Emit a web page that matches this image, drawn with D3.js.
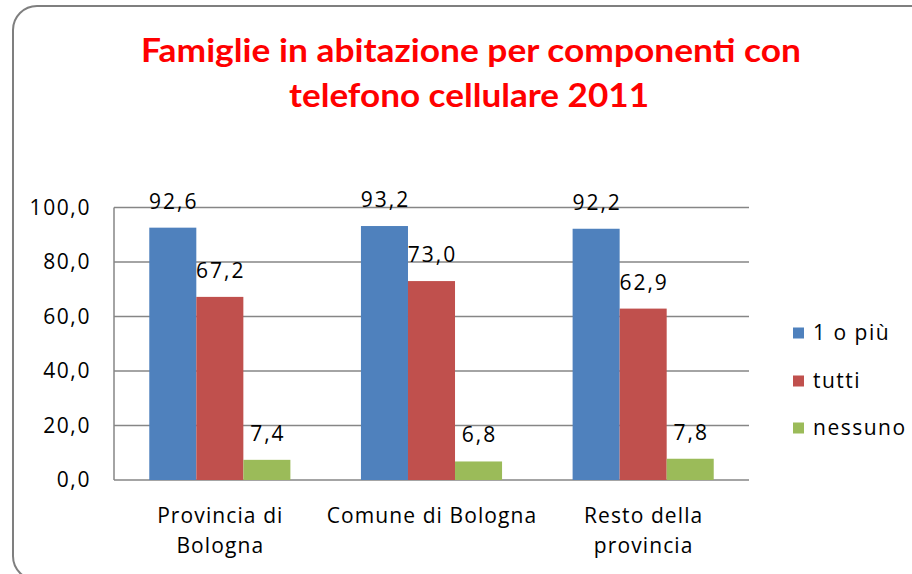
<!DOCTYPE html>
<html>
<head>
<meta charset="utf-8">
<script src="https://cdn.jsdelivr.net/npm/d3@7"></script>
<style>
  html, body { margin: 0; padding: 0; background: #fff; }
  svg { display: block; }
</style>
</head>
<body>
<div id="chart"></div>
<script>
// Famiglie in abitazione per componenti con telefono cellulare 2011

const titleLines = ['Famiglie in abitazione per componenti con', 'telefono cellulare 2011'];
const categories = ['Provincia di Bologna', 'Comune di Bologna', 'Resto della provincia'];
const categoryLines = [['Provincia di', 'Bologna'], ['Comune di Bologna'], ['Resto della', 'provincia']];
const seriesNames = ['1 o più', 'tutti', 'nessuno'];
const unoOPiu = [92.6, 93.2, 92.2];
const tutti = [67.2, 73.0, 62.9];
const nessuno = [7.4, 6.8, 7.8];
const yTicks = [0, 20, 40, 60, 80, 100];

const width = 912, height = 574;
const colors = ['#4f81bd', '#c0504d', '#9bbb59'];
const titleFont = "Lato, 'Open Sans', sans-serif";
const font = "'Open Sans', Lato, sans-serif";
const fmt = v => d3.format('.1f')(v).replace('.', ',');

const seriesValues = [unoOPiu, tutti, nessuno];
const rows = categories.map((c, i) => ({
    cat: c,
    lines: categoryLines[i],
    vals: seriesNames.map((s, j) => ({ name: s, value: seriesValues[j][i], color: colors[j] }))
}));

const svg = d3.select('#chart').append('svg')
    .attr('width', width)
    .attr('height', height);

// frame (rounded, cut off at right and bottom)
svg.append('rect')
    .attr('x', 13).attr('y', 6)
    .attr('width', 960).attr('height', 574)
    .attr('rx', 24).attr('ry', 24)
    .attr('fill', '#fff')
    .attr('stroke', '#7f7f7f')
    .attr('stroke-width', 2);

// title
const titleBox = [{ x: 471, y: 62, w: 660 }, { x: 469, y: 107, w: 360 }];
svg.selectAll('.title')
    .data(titleLines)
    .join('text')
    .attr('class', 'title')
    .attr('x', (d, i) => titleBox[i].x)
    .attr('y', (d, i) => titleBox[i].y)
    .attr('text-anchor', 'middle')
    .attr('fill', '#ff0000')
    .attr('font-family', titleFont)
    .attr('font-weight', 'bold')
    .attr('font-size', '33px')
    .attr('textLength', (d, i) => titleBox[i].w)
    .attr('lengthAdjust', 'spacingAndGlyphs')
    .text(d => d);

// scales
const x0 = d3.scaleBand()
    .domain(categories)
    .range([114, 749])
    .paddingInner(1 / 3)
    .paddingOuter(1 / 6);

const x1 = d3.scaleBand()
    .domain(seriesNames)
    .range([0, x0.bandwidth()]);

const y = d3.scaleLinear()
    .domain([0, 100])
    .range([480, 207.5]);

// gridlines
svg.append('g')
    .selectAll('line')
    .data(yTicks)
    .join('line')
    .attr('x1', 114).attr('x2', 749)
    .attr('y1', d => y(d)).attr('y2', d => y(d))
    .attr('stroke', '#868686')
    .attr('stroke-width', 1.5);

// y axis line
svg.append('line')
    .attr('x1', 114).attr('x2', 114)
    .attr('y1', y(0)).attr('y2', y(100))
    .attr('stroke', '#868686')
    .attr('stroke-width', 1.5);

// y tick labels
svg.append('g')
    .selectAll('text')
    .data(yTicks)
    .join('text')
    .attr('x', 91)
    .attr('y', d => y(d))
    .attr('dy', '0.35em')
    .attr('text-anchor', 'end')
    .attr('font-family', font)
    .attr('font-size', '21px')
    .attr('letter-spacing', '1.6px')
    .attr('fill', '#000')
    .text(fmt);

// bars
const groups = svg.append('g')
    .selectAll('g')
    .data(rows)
    .join('g')
    .attr('transform', d => `translate(${x0(d.cat)},0)`);

groups.selectAll('rect')
    .data(d => d.vals)
    .join('rect')
    .attr('x', d => x1(d.name))
    .attr('y', d => y(d.value))
    .attr('width', x1.bandwidth())
    .attr('height', d => y(0) - y(d.value))
    .attr('fill', d => d.color);

groups.selectAll('text')
    .data(d => d.vals)
    .join('text')
    .attr('x', d => x1(d.name) + x1.bandwidth() / 2 + 1)
    .attr('y', d => y(d.value) - 19)
    .attr('text-anchor', 'middle')
    .attr('font-family', font)
    .attr('font-size', '21px')
    .attr('letter-spacing', '2px')
    .attr('fill', '#000')
    .text(d => fmt(d.value));

// category labels
const catLabels = svg.append('g')
    .selectAll('text')
    .data(rows)
    .join('text')
    .attr('x', d => x0(d.cat) + x0.bandwidth() / 2 + 0.5)
    .attr('y', 523)
    .attr('text-anchor', 'middle')
    .attr('font-family', font)
    .attr('font-size', '21px')
    .attr('letter-spacing', '1.1px')
    .attr('fill', '#000');

catLabels.selectAll('tspan')
    .data(d => d.lines)
    .join('tspan')
    .attr('x', function () { return d3.select(this.parentNode).attr('x'); })
    .attr('dy', (d, i) => i === 0 ? 0 : 30)
    .text(d => d);

// legend
const legendY = [333, 381, 428];
const legend = svg.append('g')
    .selectAll('g')
    .data(seriesNames)
    .join('g')
    .attr('transform', (d, i) => `translate(793,${legendY[i]})`);

legend.append('rect')
    .attr('x', 0).attr('y', -5.5)
    .attr('width', 11).attr('height', 11)
    .attr('fill', (d, i) => colors[i]);

legend.append('text')
    .attr('x', 20)
    .attr('dy', '0.35em')
    .attr('font-family', font)
    .attr('font-size', '21px')
    .attr('letter-spacing', '1.5px')
    .attr('fill', '#000')
    .text(d => d);
</script>
</body>
</html>
